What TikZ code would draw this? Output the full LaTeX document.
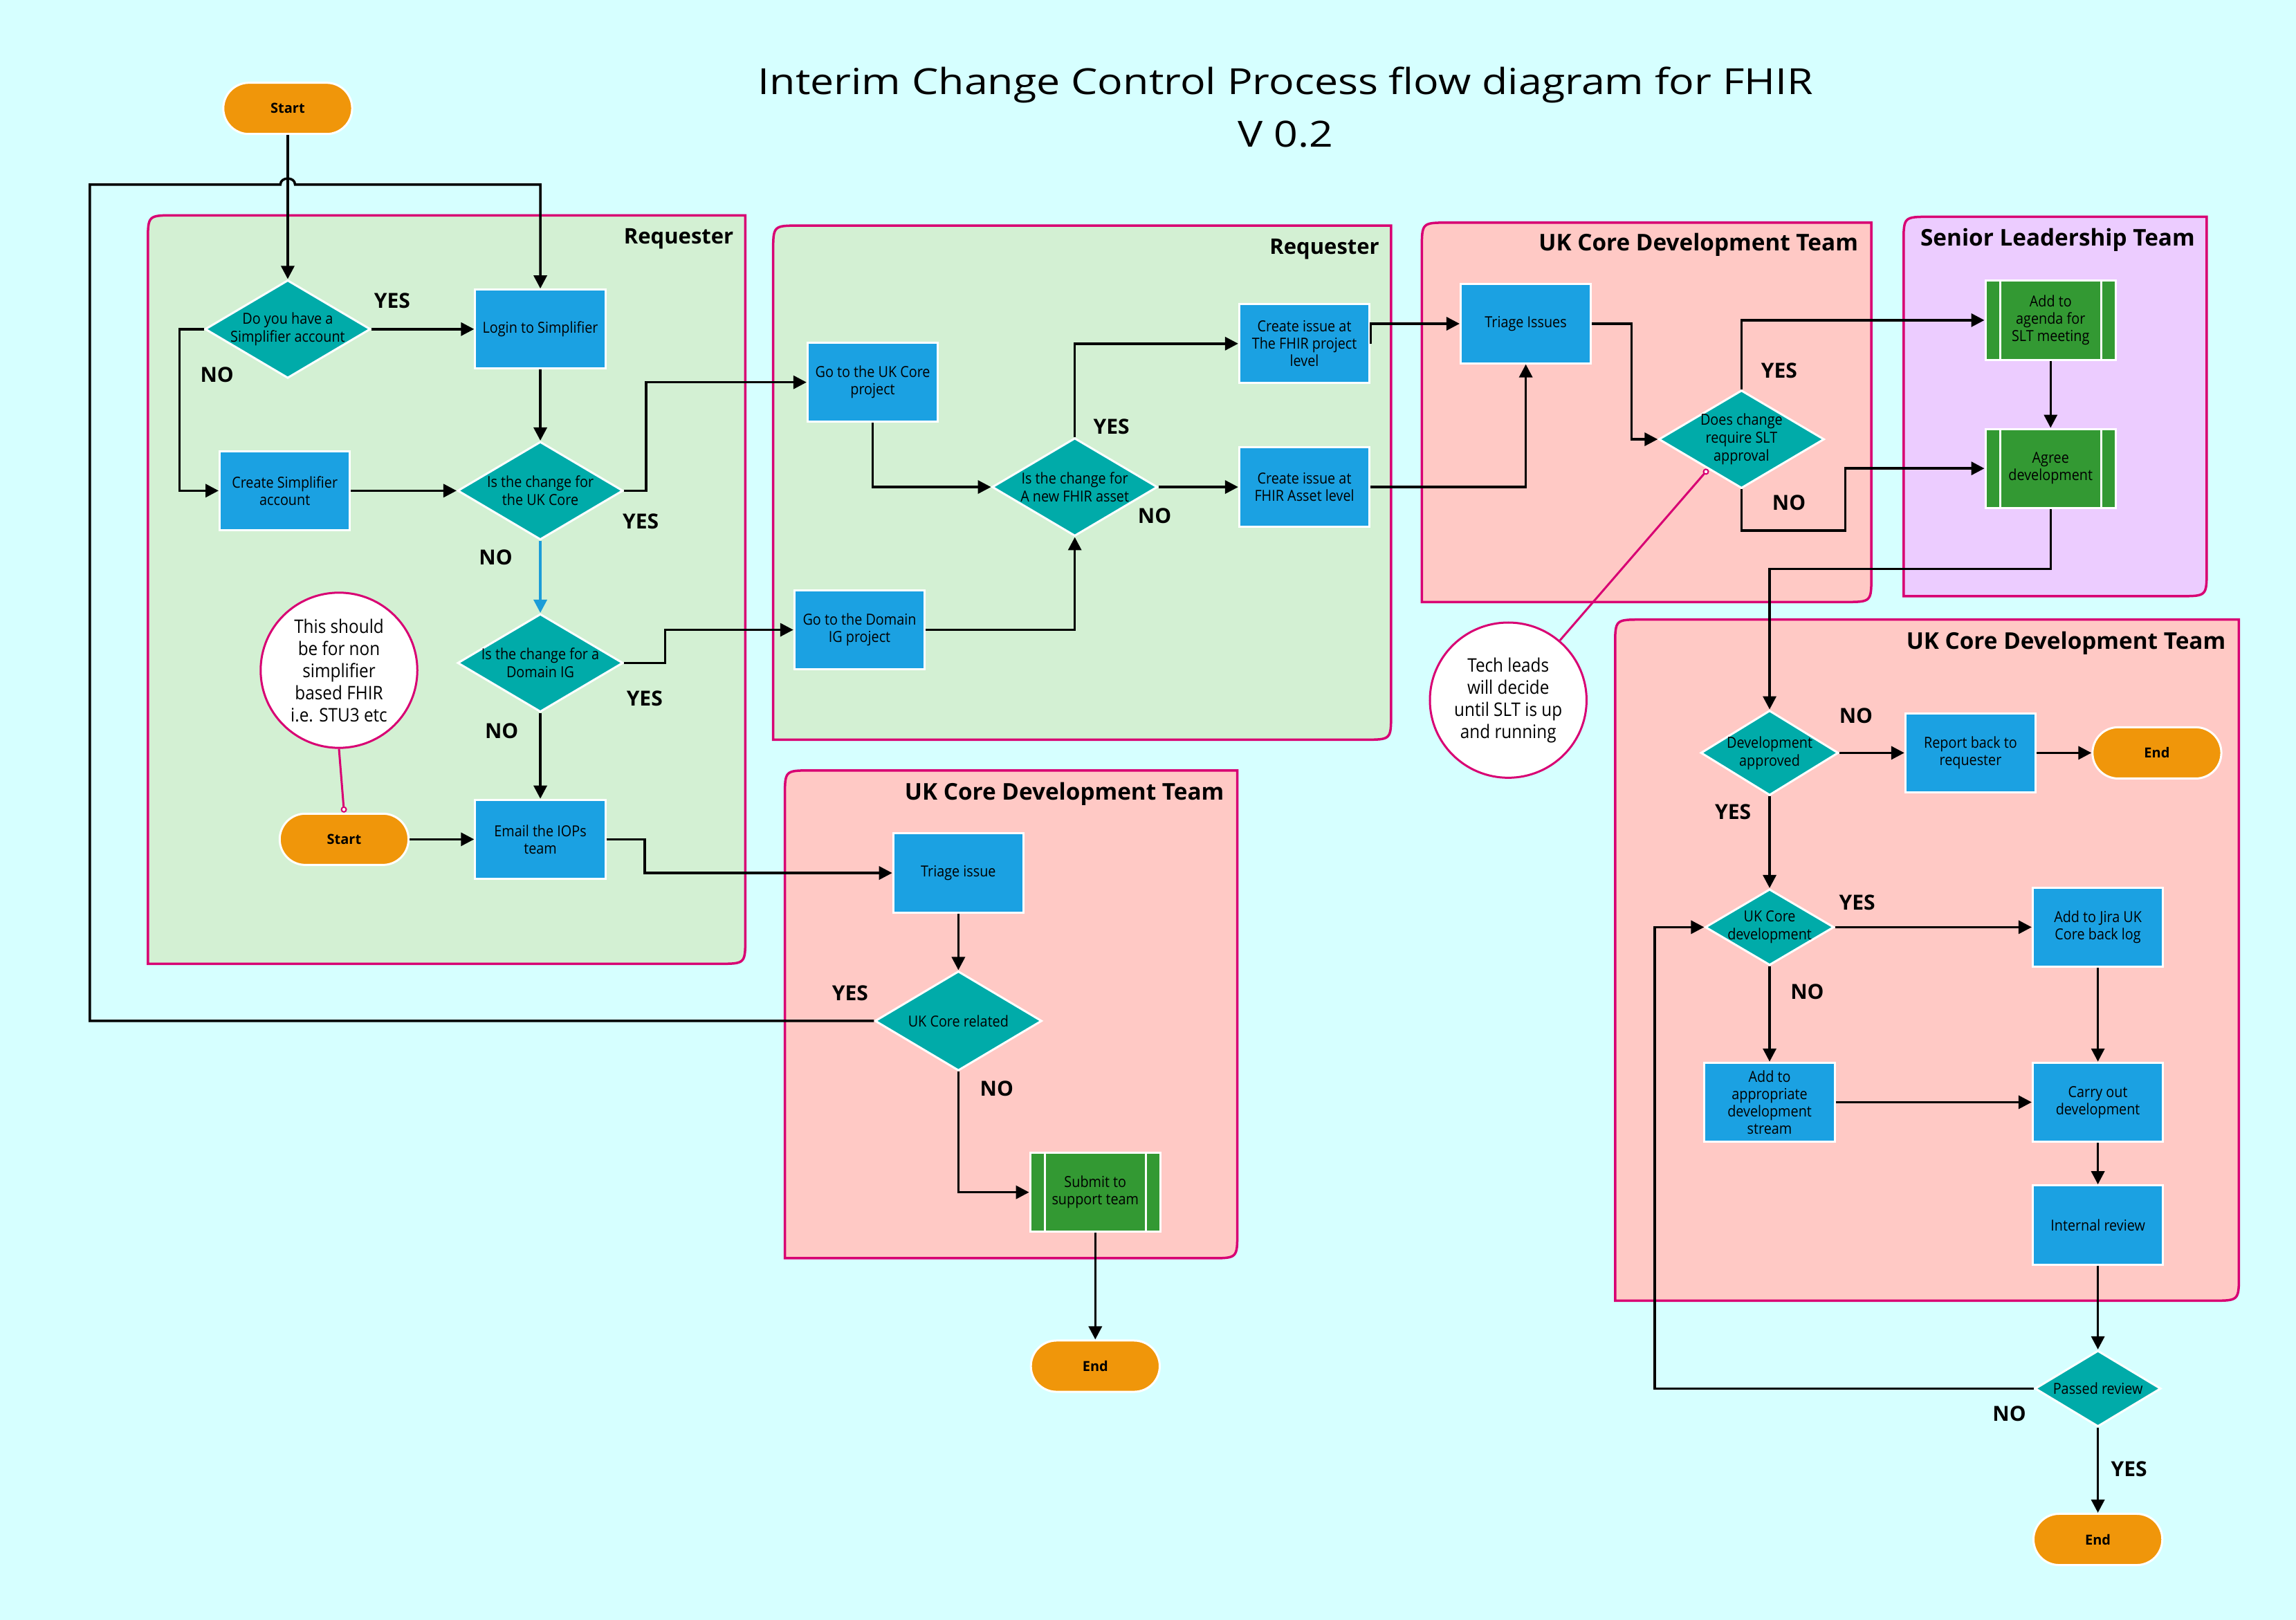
\documentclass[tikz,border=0pt]{standalone}
\usepackage{fontspec}
\setmainfont{Open Sans}
\newfontfamily\nfont[FakeStretch=0.9]{Open Sans}
\newfontfamily\tfont[FakeStretch=1.17]{Open Sans}
\usetikzlibrary{arrows.meta,shapes.geometric,shapes.misc,calc}
\definecolor{bg}{RGB}{214,255,255}
\definecolor{cblue}{RGB}{27,161,226}
\definecolor{cteal}{RGB}{0,171,169}
\definecolor{cgreen}{RGB}{51,153,51}
\definecolor{corange}{RGB}{240,150,10}
\definecolor{cmag}{RGB}{216,0,115}
\definecolor{cgfill}{RGB}{211,240,211}
\definecolor{cpfill}{RGB}{255,201,197}
\definecolor{clfill}{RGB}{236,204,255}
\definecolor{carrblue}{RGB}{27,156,216}
\newcommand\dpx{2.1167pt}
\newcommand\swimlane[5]{%
  \path[draw=cmag,line width=3.5pt,fill=#5] (#1,#4) -- (#1,#2+18) .. controls (#1,#2) .. (#1+18,#2) -- (#3,#2) -- (#3,#4-18) .. controls (#3,#4) .. (#3-18,#4) -- cycle;}
\begin{document}
\begin{tikzpicture}[x=2.1167pt,y=-2.1175pt,
  box/.style={rectangle, draw=white, line width=3pt, fill=cblue, minimum width=89*\dpx, minimum height=54*\dpx, inner sep=1pt, align=center, font=\nfont\fontsize{22}{25}\selectfont},
  pp/.style={box, fill=cgreen, path picture={
     \draw[white,line width=3pt] ([xshift=10*\dpx]path picture bounding box.north west) -- ([xshift=10*\dpx]path picture bounding box.south west);
     \draw[white,line width=3pt] ([xshift=-10*\dpx]path picture bounding box.north east) -- ([xshift=-10*\dpx]path picture bounding box.south east);}},
  dlab/.style={align=center, inner sep=0pt, font=\nfont\fontsize{22}{26}\selectfont},
  dia/.style={diamond, draw=white, line width=3pt, fill=cteal, inner sep=0pt, minimum width=113*\dpx, minimum height=67*\dpx, label={[dlab]center:#1}},
  term/.style={rounded rectangle, draw=white, line width=3pt, fill=corange, minimum width=88*\dpx, minimum height=35*\dpx, inner sep=0pt, font=\bfseries\fontsize{20}{24}\selectfont},
  nlab/.style={align=center, inner sep=0pt, font=\nfont\fontsize{27}{32}\selectfont},
  note/.style={ellipse, draw=cmag, line width=3pt, fill=white, minimum width=107*\dpx, minimum height=106*\dpx, inner sep=0pt, label={[nlab]center:#1}},
  lab/.style={inner sep=0pt, font=\bfseries\fontsize{30}{34}\selectfont},
  lanetitle/.style={anchor=east, inner sep=0pt, font=\bfseries\fontsize{31}{36}\selectfont},
  lanetitlew/.style={anchor=east, inner sep=0pt, font=\bfseries\fontsize{33.3}{38}\selectfont},
  ttl/.style={align=center, inner sep=0pt, font=\tfont\fontsize{52}{76}\selectfont},
  arr/.style={line width=3.5pt, -{Triangle[length=19pt,width=19pt]}},
  arrb/.style={arr, draw=carrblue},
  noteline/.style={draw=cmag, line width=3pt, -{Circle[length=9pt,fill=white,line width=2pt]}}
]
\useasboundingbox (0,0) rectangle (1568,1106);
\fill[bg] (0,0) rectangle (1568,1106);

% swimlanes
\swimlane{101}{147}{509}{658}{cgfill}
\swimlane{528}{154}{950}{505}{cgfill}
\swimlane{971}{152}{1278}{411}{cpfill}
\swimlane{1300}{148}{1507}{407}{clfill}
\swimlane{536}{526}{845}{859}{cpfill}
\swimlane{1103}{423}{1529}{888}{cpfill}

\node[lanetitle] (t1) at (501,163) {Requester};
\node[lanetitle] (t2) at (942,170) {Requester};
\node[lanetitlew] (t3) at (1269,167) {UK Core Development Team};
\node[lanetitlew] (t4) at (1499,164) {Senior Leadership Team};
\node[lanetitlew] (t5) at (836,542) {UK Core Development Team};
\node[lanetitlew] (t6) at (1520,439) {UK Core Development Team};

\node[ttl] (title) at (878,73) {Interim Change Control Process flow diagram for FHIR\\V 0.2};

% nodes
\node[term] (start1) at (196.5,74) {Start};
\node[dia={Do you have a\\Simplifier account}] (d1) at (196.5,224.7) {};
\node[box] (login) at (369,224.7) {Login to Simplifier};
\node[box] (create) at (194.5,335) {Create Simplifier\\account};
\node[dia={Is the change for\\the UK Core}] (d2) at (369,335) {};
\node[dia={Is the change for a\\Domain IG}] (d3) at (369,452.6) {};
\node[note={This should\\be for non\\simplifier\\based FHIR\\i.e. STU3 etc}] (note1) at (231.5,457.6) {};
\node[term] (start2) at (235,573) {Start};
\node[box] (email) at (369,573) {Email the IOPs\\team};

\node[box] (gouk) at (596,261) {Go to the UK Core\\project};
\node[box] (goig) at (587,430) {Go to the Domain\\IG project};
\node[dia={Is the change for\\A new FHIR asset}] (d4) at (734,332.5) {};
\node[box] (cfp) at (890.8,234.6) {Create issue at\\The FHIR project\\level};
\node[box] (cfa) at (890.8,332.5) {Create issue at\\FHIR Asset level};

\node[box] (tri1) at (1042,221) {Triage Issues};
\node[dia={Does change\\require SLT\\approval}] (d5) at (1189.3,299.9) {};
\node[pp] (agenda) at (1400.4,218.6) {Add to\\agenda for\\SLT meeting};
\node[pp] (agree) at (1400.4,319.8) {Agree\\development};
\node[note={Tech leads\\will decide\\until SLT is up\\and running}] (note2) at (1030,478) {};

\node[box] (tri2) at (654.5,596) {Triage issue};
\node[dia={UK Core related}, minimum width=114*\dpx, minimum height=68*\dpx] (d6) at (654.5,697) {};
\node[pp] (submit) at (748,814) {Submit to\\support team};
\node[term] (end1) at (748,932.7) {End};

\node[dia={Development\\approved}, minimum width=94*\dpx, minimum height=58*\dpx] (d7) at (1208.5,514) {};
\node[box] (report) at (1345.7,514) {Report back to\\requester};
\node[term] (end2) at (1473,514) {End};
\node[dia={UK Core\\development}, minimum width=88*\dpx, minimum height=52*\dpx] (d8) at (1208.5,633) {};
\node[box] (jira) at (1432.7,633) {Add to Jira UK\\Core back log};
\node[box] (appr) at (1208.5,752.5) {Add to\\appropriate\\development\\stream};
\node[box] (carry) at (1432.7,752.5) {Carry out\\development};
\node[box] (intrev) at (1432.7,836.3) {Internal review};
\node[dia={Passed review}, minimum width=86*\dpx, minimum height=52*\dpx] (d9) at (1432.7,948) {};
\node[term] (end3) at (1432.7,1051) {End};

% labels
\node[lab] (y1) at (267.8,205.3) {YES};
\node[lab] (n1) at (148.2,256) {NO};
\node[lab] (y2) at (437.5,356.2) {YES};
\node[lab] (n2) at (338.5,380.6) {NO};
\node[lab] (y3) at (440.2,477) {YES};
\node[lab] (n3) at (342.6,499) {NO};
\node[lab] (y4) at (759,291.5) {YES};
\node[lab] (n4) at (788.5,352.3) {NO};
\node[lab] (y5) at (1215,253) {YES};
\node[lab] (n5) at (1221.7,343) {NO};
\node[lab] (y6) at (580.6,678) {YES};
\node[lab] (n6) at (680.7,743.3) {NO};
\node[lab] (n7) at (1267.5,488.7) {NO};
\node[lab] (y7) at (1183.5,554.5) {YES};
\node[lab] (y8) at (1268.3,616) {YES};
\node[lab] (n8) at (1234.2,677) {NO};
\node[lab] (n9) at (1372.2,965) {NO};
\node[lab] (y9) at (1454,1003) {YES};

% connectors
\draw[arr] (start1.south) -- (d1.north);
\draw[arr] (d6.west) -| (61.3,126) -- (191.5,126) .. controls (191.5,120.5) and (201.5,120.5) .. (201.5,126) -| (login.north);
\draw[arr] (d1.east) -- (login.west);
\draw[arr] (d1.west) -- ++(-16.6,0) |- (create.west);
\draw[arr] (login.south) -- (d2.north);
\draw[arr] (create.east) -- (d2.west);
\draw[arr] (d2.east) -- ++(15,0) |- (gouk.west);
\draw[arrb] (d2.south) -- (d3.north);
\draw[arr] (d3.east) -- ++(28,0) |- (goig.west);
\draw[arr] (d3.south) -- (email.north);
\draw[arr] (start2.east) -- (email.west);
\draw[arr] (email.east) -- ++(26,0) |- (tri2.west);
\draw[arr] (gouk.south) |- (d4.west);
\draw[arr] (goig.east) -| (d4.south);
\draw[arr] (d4.north) |- (cfp.west);
\draw[arr] (d4.east) -- (cfa.west);
\draw[arr] (cfp.east) |- (tri1.west);
\draw[arr] (cfa.east) -| (tri1.south);
\draw[arr] (tri1.east) -- ++(27,0) |- (d5.west);
\draw[arr] (d5.north) |- (agenda.west);
\draw[arr] (d5.south) -- ++(0,28) -- ++(71,0) |- (agree.west);
\draw[arr] (agenda.south) -- (agree.north);
\draw[arr] (agree.south) -- ++(0,41) -| (d7.north);
\draw[arr] (d7.east) -- (report.west);
\draw[arr] (report.east) -- (end2.west);
\draw[arr] (d7.south) -- (d8.north);
\draw[arr] (d8.east) -- (jira.west);
\draw[arr] (d8.south) -- (appr.north);
\draw[arr] (jira.south) -- (carry.north);
\draw[arr] (appr.east) -- (carry.west);
\draw[arr] (carry.south) -- (intrev.north);
\draw[arr] (intrev.south) -- (d9.north);
\draw[arr] (d9.west) -- ++(-259,0) |- (d8.west);
\draw[arr] (d9.south) -- (end3.north);
\draw[arr] (tri2.south) -- (d6.north);
\draw[arr] (d6.south) |- (submit.west);
\draw[arr] (submit.south) -- (end1.north);
\coordinate (d5hit) at ($(d5.west)!0.6!(d5.south)$);
\draw[noteline] (note1.south) -- (start2.north);
\draw[noteline] (note2) -- (d5hit);
\end{tikzpicture}
\end{document}
